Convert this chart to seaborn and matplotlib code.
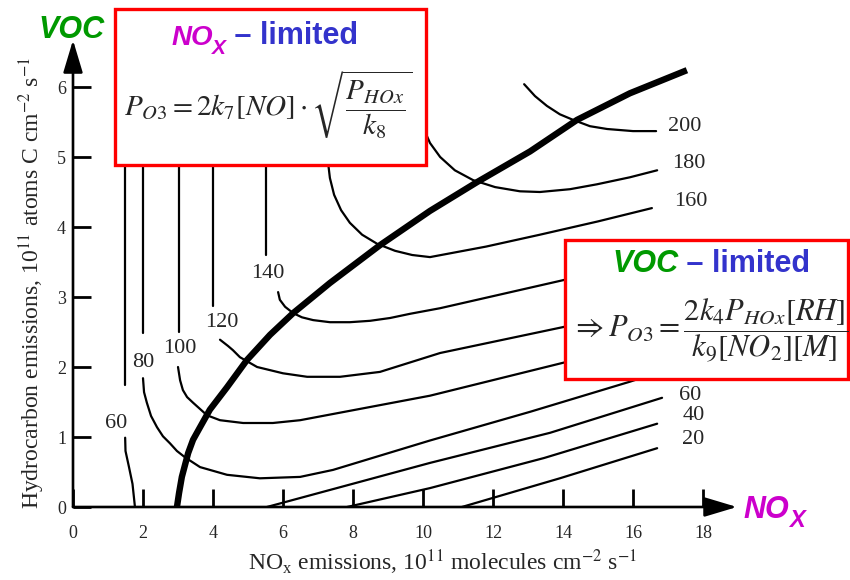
import matplotlib.pyplot as plt
import matplotlib.patches as mpatches
import numpy as np
import pandas as pd
import seaborn as sns

# ozone isopleths
# x: NOx emissions (1e11 molecules cm-2 s-1), y: VOC emissions (1e11 atoms C cm-2 s-1)
c60a_x = [1.49, 1.49]
c60a_y = [6.0, 1.74]
c60b_x = [1.49, 1.50, 1.60, 1.70, 1.77]
c60b_y = [0.99, 0.80, 0.57, 0.33, 0.0]
c80a_x = [2.0, 2.0]
c80a_y = [6.0, 2.49]
c80b_x = [2.0, 2.03, 2.11, 2.23, 2.4, 2.57, 2.77, 2.97, 3.2, 3.63, 4.4, 5.34, 6.49, 7.43,
          10.2, 13.06, 15.91, 16.77]
c80b_y = [1.84, 1.64, 1.49, 1.30, 1.14, 1.01, 0.91, 0.80, 0.71, 0.57, 0.46, 0.41, 0.43, 0.53,
          0.95, 1.36, 1.79, 1.93]
c100a_x = [3.03, 3.03]
c100a_y = [6.0, 2.5]
c100b_x = [3.0, 3.06, 3.14, 3.26, 3.43, 3.63, 3.83, 4.2, 4.86, 5.71, 6.49, 10.2, 14.0, 16.77]
c100b_y = [2.0, 1.81, 1.67, 1.57, 1.49, 1.40, 1.31, 1.24, 1.20, 1.20, 1.24, 1.59, 2.06, 2.39]
c120a_x = [4.0, 4.0]
c120a_y = [6.0, 2.87]
c120b_x = [4.2, 4.43, 4.57, 4.77, 5.26, 6.0, 6.69, 7.63, 8.77, 10.49, 14.0, 16.77]
c120b_y = [2.39, 2.30, 2.24, 2.14, 2.0, 1.91, 1.86, 1.86, 1.93, 2.2, 2.57, 2.89]
c140a_x = [5.51, 5.51]
c140a_y = [6.0, 3.6]
c140b_x = [5.86, 5.91, 6.06, 6.29, 6.54, 6.86, 7.34, 7.91, 8.49, 9.06, 9.63, 10.49, 14.0, 16.77]
c140b_y = [3.07, 2.96, 2.86, 2.77, 2.71, 2.67, 2.64, 2.64, 2.66, 2.70, 2.76, 2.84, 3.24, 3.56]
c160_x = [7.2, 7.29, 7.34, 7.46, 7.66, 7.91, 8.26, 8.69, 9.2, 9.69, 10.2, 11.8, 13.34, 15.0, 16.54]
c160_y = [5.3, 4.91, 4.70, 4.46, 4.24, 4.06, 3.89, 3.76, 3.66, 3.60, 3.57, 3.72, 3.89, 4.08, 4.27]
c180_x = [9.97, 10.2, 10.49, 10.91, 11.43, 12.06, 12.77, 13.34, 14.2, 14.97, 15.91, 16.69]
c180_y = [5.46, 5.2, 5.0, 4.81, 4.67, 4.57, 4.51, 4.50, 4.54, 4.61, 4.71, 4.81]
c200_x = [12.89, 13.2, 13.54, 13.91, 14.29, 14.77, 15.26, 16.0, 16.66]
c200_y = [6.04, 5.87, 5.73, 5.61, 5.53, 5.44, 5.40, 5.37, 5.37]
c60c_x = [5.54, 10.2, 13.63, 16.83]
c60c_y = [0.0, 0.63, 1.06, 1.56]
c40_x = [7.83, 10.2, 13.46, 16.69]
c40_y = [0.0, 0.27, 0.70, 1.19]
c20_x = [11.11, 13.91, 16.69]
c20_y = [0.0, 0.41, 0.84]

# ridge line separating the two regimes
ridge_x = [2.97, 3.03, 3.11, 3.2, 3.29, 3.43, 3.63, 3.91, 4.4, 4.97, 5.63, 6.29, 7.34, 8.77,
           10.2, 11.54, 13.06, 14.4, 15.91, 17.54]
ridge_y = [0.0, 0.2, 0.43, 0.6, 0.77, 0.96, 1.14, 1.39, 1.71, 2.10, 2.46, 2.77, 3.2, 3.74,
           4.23, 4.64, 5.08, 5.53, 5.91, 6.24]

# contour labels
lab_text = ['200', '180', '160', '140', '120', '100', '80', '60', '60', '40', '20']
lab_x = [17.49, 17.6, 17.66, 5.57, 4.26, 3.06, 2.0, 1.23, 17.63, 17.74, 17.71]
lab_y = [5.44, 4.91, 4.36, 3.34, 2.63, 2.27, 2.06, 1.2, 1.6, 1.3, 0.96]

pieces = {
    '60a': (c60a_x, c60a_y), '60b': (c60b_x, c60b_y), '60c': (c60c_x, c60c_y),
    '80a': (c80a_x, c80a_y), '80b': (c80b_x, c80b_y),
    '100a': (c100a_x, c100a_y), '100b': (c100b_x, c100b_y),
    '120a': (c120a_x, c120a_y), '120b': (c120b_x, c120b_y),
    '140a': (c140a_x, c140a_y), '140b': (c140b_x, c140b_y),
    '160': (c160_x, c160_y), '180': (c180_x, c180_y), '200': (c200_x, c200_y),
    '40': (c40_x, c40_y), '20': (c20_x, c20_y),
}
df = pd.concat([pd.DataFrame({'nox': x, 'voc': y, 'piece': k}) for k, (x, y) in pieces.items()],
               ignore_index=True)

sns.set_theme(style='white')
plt.rcParams['font.family'] = ['Liberation Serif', 'DejaVu Serif']
plt.rcParams['mathtext.fontset'] = 'stix'

W, H = 850, 580
fig = plt.figure(figsize=(8.5, 5.8), dpi=100)
ax = fig.add_axes([73 / W, 73 / H, 19.5 * 35 / W, 6.9 * 70 / H])

sns.lineplot(data=df, x='nox', y='voc', units='piece', estimator=None, sort=False,
             color='black', lw=1.6, ax=ax)
sns.lineplot(x=ridge_x, y=ridge_y, sort=False, color='black', lw=4.6, ax=ax,
             solid_capstyle='butt')

for t, x, y in zip(lab_text, lab_x, lab_y):
    ax.text(x, y, t, ha='center', va='center', fontsize=16)

ax.set_xlim(0, 19.5)
ax.set_ylim(0, 6.9)
ax.set_xticks(range(0, 19, 2))
ax.set_yticks(range(0, 7))
for s in ax.spines.values():
    s.set_visible(False)
ax.tick_params(axis='both', direction='in', length=13, width=2, labelsize=13,
               bottom=True, left=True, color='black')
ax.tick_params(axis='x', pad=13)
ax.tick_params(axis='y', pad=5)

# axis arrows
arr = dict(arrowstyle='-|>,head_length=1.0,head_width=0.3', lw=1.9, color='black',
           shrinkA=0, shrinkB=0, mutation_scale=20)
ax.annotate('', xy=(0, 6.67), xytext=(0, 0), arrowprops=arr, annotation_clip=False)
ax.annotate('', xy=(18.97, 0), xytext=(0, 0), arrowprops=arr, annotation_clip=False)

ax.set_xlabel(r'NO$_\mathregular{x}$ emissions, 10$^{11}$ molecules cm$^{-2}$ s$^{-1}$', fontsize=17)
ax.set_ylabel(r'Hydrocarbon emissions, 10$^{11}$ atoms C cm$^{-2}$ s$^{-1}$', fontsize=17)
ax.xaxis.set_label_coords(0.542, -0.083)
ax.yaxis.set_label_coords(-0.038, 0.465)

green = '#009900'
magenta = '#CC00CC'
blue = '#3333CC'
sans = 'Liberation Sans'
ft = fig.transFigure

# axis names
ax.text(38 / W, 1 - 38 / H, 'VOC', transform=ft, color=green, fontsize=22, family=sans,
        weight='bold', style='italic', ha='left', va='baseline')
nx = ax.text(743 / W, 1 - 518 / H, 'NO', transform=ft, color=magenta, fontsize=22, family=sans,
             weight='bold', style='italic', ha='left', va='baseline')
ax.annotate('X', xy=(1, 0), xycoords=nx, xytext=(0, -5), textcoords='offset points',
            color=magenta, fontsize=17, family=sans, weight='bold', style='italic',
            ha='left', va='bottom', annotation_clip=False)

# regime boxes
box_kw = dict(transform=ft, facecolor='white', edgecolor='#FF0000', lw=2.4, zorder=5, clip_on=False)
ax.add_artist(mpatches.Rectangle((115 / W, 1 - 165 / H), 311 / W, 156 / H, **box_kw))
ax.add_artist(mpatches.Rectangle((565 / W, 1 - 379 / H), 283 / W, 139 / H, **box_kw))

t1 = ax.text(172 / W, 1 - 45 / H, 'NO', transform=ft, color=magenta, fontsize=20, family=sans,
             weight='bold', style='italic', ha='left', va='baseline', zorder=6)
t1x = ax.annotate('X', xy=(1, 0), xycoords=t1, xytext=(-1, -5), textcoords='offset points',
                  color=magenta, fontsize=15, family=sans, weight='bold', style='italic',
                  ha='left', va='bottom', zorder=6, annotation_clip=False)
ax.annotate(' – limited', xy=(1, 0), xycoords=(t1x, t1), color=blue, fontsize=22, family=sans,
            weight='bold', ha='left', va='bottom', zorder=6, annotation_clip=False)

t2 = ax.text(612 / W, 1 - 272 / H, 'VOC', transform=ft, color=green, fontsize=22, family=sans,
             weight='bold', style='italic', ha='left', va='baseline', zorder=6)
ax.annotate(' – limited', xy=(1, 0), xycoords=t2, color=blue, fontsize=22, family=sans,
            weight='bold', ha='left', va='bottom', zorder=6, annotation_clip=False)

ax.text(268 / W, 1 - 105 / H, r'$P_{O3} = 2k_7\left[NO\right]\cdot\sqrt{\dfrac{P_{HOx}}{k_8}}$',
        transform=ft, ha='center', va='center', fontsize=21, zorder=6)
ax.text(710 / W, 1 - 331 / H,
        r'$\Rightarrow P_{O3} = \dfrac{2k_4P_{HOx}\left[RH\right]}{k_9\left[NO_2\right]\left[M\right]}$',
        transform=ft, ha='center', va='center', fontsize=22, zorder=6)

fig.savefig('out.png', dpi=100)
